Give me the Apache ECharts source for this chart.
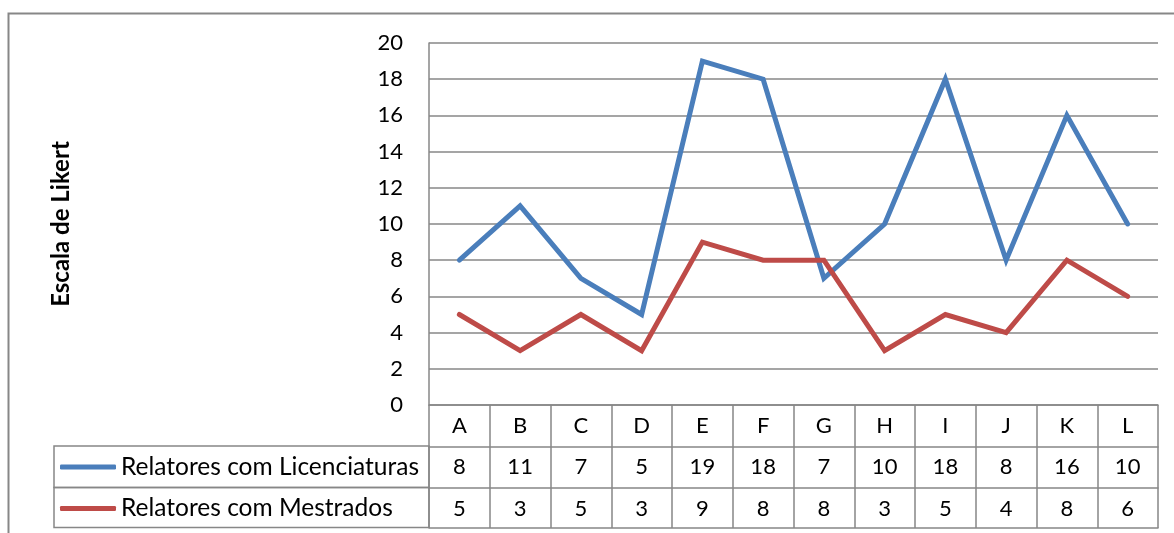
<!DOCTYPE html>
<html>
<head>
<meta charset="utf-8">
<script src="https://cdn.jsdelivr.net/npm/echarts@6/dist/echarts.min.js"></script>
<style>
  html, body { margin: 0; padding: 0; background: #ffffff; }
  #chart { width: 1174px; height: 533px; }
</style>
</head>
<body>
<div id="chart"></div>
<script>
const categories = ['A', 'B', 'C', 'D', 'E', 'F', 'G', 'H', 'I', 'J', 'K', 'L'];
const licenciaturas = [8, 11, 7, 5, 19, 18, 7, 10, 18, 8, 16, 10];
const mestrados = [5, 3, 5, 3, 9, 8, 8, 3, 5, 4, 8, 6];
const seriesNames = ['Relatores com Licenciaturas', 'Relatores com Mestrados'];
const yTicks = { min: 0, max: 20, interval: 2 };
const yTitle = 'Escala de Likert';

const FONT = 'Lato, "Open Sans", sans-serif';
const GRID = '#878787';
const BLUE = '#4A7EBB';
const RED = '#BE4B48';

const chart = echarts.init(document.getElementById('chart'), null, { renderer: 'canvas' });

const rowH = 41.5;
const labelStyle = { fontFamily: FONT, fontSize: 22, color: '#000', verticalAlign: 'middle', margin: rowH / 2 };

const option = {
  backgroundColor: '#ffffff',
  animation: false,
  grid: { left: 429, right: 16, top: 43, bottom: 128, containLabel: false },
  legend: {
    orient: 'vertical',
    left: 60,
    top: 454,
    itemWidth: 56,
    itemHeight: 5,
    itemGap: 15.5,
    icon: 'roundRect',
    padding: 0,
    textStyle: { fontFamily: FONT, fontSize: 24.5, color: '#000', lineHeight: 26 },
    data: seriesNames
  },
  xAxis: [
    {
      type: 'category', data: categories, position: 'bottom', boundaryGap: true,
      axisLine: { show: true, lineStyle: { color: GRID, width: 1.5 } },
      axisTick: { show: true, interval: 0, length: 3 * rowH - 1.5, lineStyle: { color: GRID, width: 1.5 } },
      axisLabel: Object.assign({ interval: 0 }, labelStyle),
      splitLine: { show: false }
    },
    {
      type: 'category', data: categories, position: 'bottom', offset: rowH, boundaryGap: true,
      axisLine: { show: true, lineStyle: { color: GRID, width: 1.5 } },
      axisTick: { show: false },
      axisLabel: Object.assign({ interval: 0, formatter: (v, i) => String(licenciaturas[i]) }, labelStyle)
    },
    {
      type: 'category', data: categories, position: 'bottom', offset: 2 * rowH, boundaryGap: true,
      axisLine: { show: true, lineStyle: { color: GRID, width: 1.5 } },
      axisTick: { show: false },
      axisLabel: Object.assign({ interval: 0, formatter: (v, i) => String(mestrados[i]) }, labelStyle)
    },
    {
      type: 'category', data: categories, position: 'bottom', offset: 3 * rowH - 1.5, boundaryGap: true,
      axisLine: { show: true, lineStyle: { color: GRID, width: 1.5 } },
      axisTick: { show: false },
      axisLabel: { show: false }
    }
  ],
  yAxis: {
    type: 'value', min: yTicks.min, max: yTicks.max, interval: yTicks.interval,
    axisLine: { show: true, lineStyle: { color: GRID, width: 1.5 } },
    axisTick: { show: false },
    splitLine: { show: true, lineStyle: { color: GRID, width: 1.5 } },
    axisLabel: { fontFamily: FONT, fontSize: 22, color: '#000', margin: 26 },
    name: yTitle,
    nameLocation: 'middle',
    nameRotate: 90,
    nameGap: 356,
    nameTextStyle: { fontFamily: FONT, fontSize: 24, fontWeight: 'bold', color: '#000' }
  },
  series: [
    {
      name: seriesNames[0], type: 'line', data: licenciaturas, xAxisIndex: 0, yAxisIndex: 0,
      showSymbol: false, symbol: 'none', color: BLUE,
      lineStyle: { color: BLUE, width: 5, join: 'miter', cap: 'round' }
    },
    {
      name: seriesNames[1], type: 'line', data: mestrados, xAxisIndex: 0, yAxisIndex: 0,
      showSymbol: false, symbol: 'none', color: RED,
      lineStyle: { color: RED, width: 5, join: 'miter', cap: 'round' }
    }
  ],
  graphic: [
    { type: 'rect', silent: true, z: -1, shape: { x: 8.5, y: 13.5, width: 1300, height: 700 },
      style: { fill: 'none', stroke: GRID, lineWidth: 2 } },
    { type: 'rect', silent: true, shape: { x: 54, y: 446, width: 375, height: rowH },
      style: { fill: 'none', stroke: GRID, lineWidth: 1.5 } },
    { type: 'rect', silent: true, shape: { x: 54, y: 446 + rowH, width: 375, height: rowH - 1.5 },
      style: { fill: 'none', stroke: GRID, lineWidth: 1.5 } }
  ]
};

chart.setOption(option);
</script>
</body>
</html>
